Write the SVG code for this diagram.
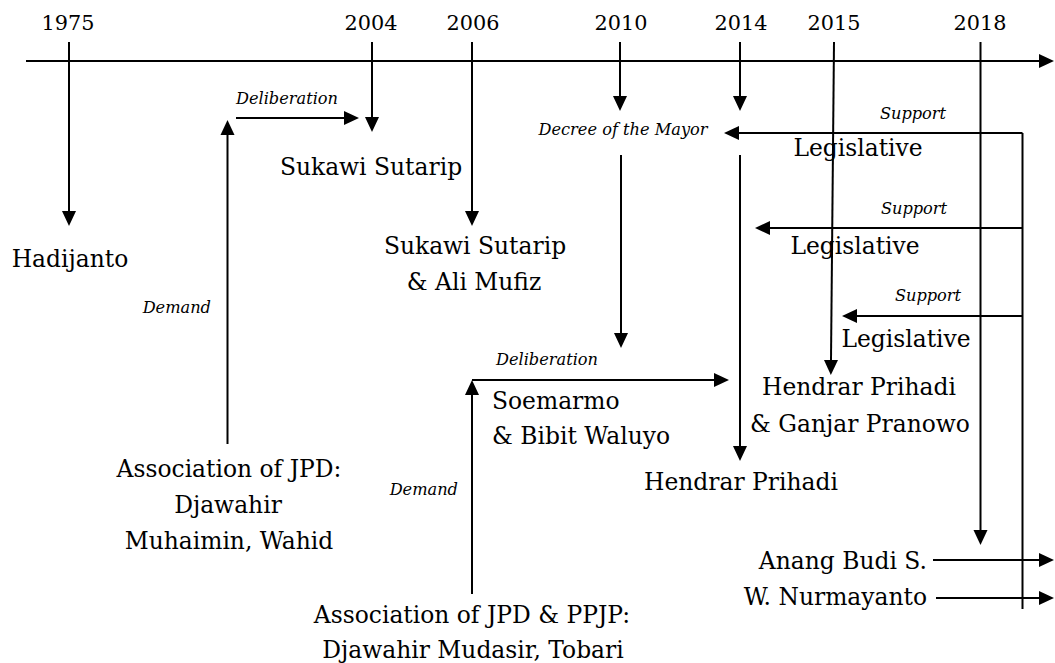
<svg xmlns="http://www.w3.org/2000/svg" width="1055" height="663" viewBox="0 0 1055 663">
<style>
.t{font-family:"DejaVu Serif","Liberation Serif",serif;font-size:23.4px;fill:#000}
.y{font-family:"DejaVu Serif","Liberation Serif",serif;font-size:20.8px;fill:#000;text-anchor:middle}
.i{font-family:"DejaVu Serif","Liberation Serif",serif;font-size:16.2px;font-style:italic;fill:#000}
.m{text-anchor:middle}
.e{text-anchor:end}
.c line,.c path{stroke:#000;stroke-width:2;fill:none}
.c .a{marker-end:url(#ah)}
</style>
<defs>
<marker id="ah" markerUnits="userSpaceOnUse" markerWidth="15" markerHeight="14" refX="0" refY="7" orient="auto" overflow="visible">
<path d="M0,0 L15,7 L0,14 Z" fill="#000"/>
</marker>
</defs>
<rect width="1055" height="663" fill="#fff"/>
<g id="years">
<text class="y" x="68" y="30">1975</text>
<text class="y" x="371" y="30">2004</text>
<text class="y" x="473" y="30">2006</text>
<text class="y" x="621" y="30">2010</text>
<text class="y" x="741" y="30">2014</text>
<text class="y" x="834" y="30">2015</text>
<text class="y" x="980" y="30">2018</text>
</g>
<g class="c" id="connectors">
<line class="a" x1="26" y1="61" x2="1039" y2="61"/>
<line class="a" x1="69" y1="42" x2="69" y2="211"/>
<line class="a" x1="372" y1="42" x2="372" y2="117"/>
<line class="a" x1="472" y1="42" x2="472" y2="211"/>
<line class="a" x1="620" y1="42" x2="620" y2="96"/>
<line class="a" x1="740" y1="42" x2="740" y2="96"/>
<line class="a" x1="834" y1="42" x2="831" y2="360"/>
<line class="a" x1="980.5" y1="42" x2="980.5" y2="530"/>
<line class="a" x1="236" y1="118" x2="344" y2="118"/>
<line class="a" x1="227.5" y1="444" x2="227.5" y2="135"/>
<line x1="1022.5" y1="133" x2="1022.5" y2="609"/>
<line class="a" x1="1022.5" y1="133" x2="739" y2="133"/>
<line class="a" x1="1022.5" y1="228" x2="770" y2="228"/>
<line class="a" x1="1022.5" y1="316" x2="857" y2="316"/>
<line class="a" x1="621" y1="155" x2="621" y2="333"/>
<line class="a" x1="740" y1="155" x2="740" y2="446"/>
<line class="a" x1="472" y1="594" x2="472" y2="395"/>
<line class="a" x1="472" y1="380" x2="714" y2="380"/>
<line class="a" x1="933" y1="560" x2="1039" y2="560"/>
<line class="a" x1="936" y1="598" x2="1039" y2="598"/>
</g>
<g id="labels">
<text class="i m" x="287" y="104">Deliberation</text>
<text class="i e" x="211" y="313">Demand</text>
<text class="i m" x="623" y="135">Decree of the Mayor</text>
<text class="i m" x="913" y="119">Support</text>
<text class="i m" x="914" y="214">Support</text>
<text class="i m" x="928" y="301">Support</text>
<text class="i m" x="547" y="365">Deliberation</text>
<text class="i e" x="458" y="495">Demand</text>
</g>
<g id="n-hadijanto"><text class="t m" x="70" y="267">Hadijanto</text></g>
<g id="n-sukawi1"><text class="t m" x="371" y="175">Sukawi Sutarip</text></g>
<g id="n-sukawi2"><text class="t m" x="475" y="254">Sukawi Sutarip</text><text class="t m" x="474" y="290">&amp; Ali Mufiz</text></g>
<g id="n-assoc1"><text class="t m" x="229" y="477">Association of JPD:</text><text class="t m" x="228" y="513">Djawahir</text><text class="t m" x="229" y="549">Muhaimin, Wahid</text></g>
<g id="n-assoc2"><text class="t m" x="472" y="623">Association of JPD &amp; PPJP:</text><text class="t m" x="473" y="658">Djawahir Mudasir, Tobari</text></g>
<g id="n-soemarmo"><text class="t" x="492" y="409">Soemarmo</text><text class="t" x="492" y="444">&amp; Bibit Waluyo</text></g>
<g id="n-leg1"><text class="t m" x="858" y="156">Legislative</text></g>
<g id="n-leg2"><text class="t m" x="855" y="254">Legislative</text></g>
<g id="n-leg3"><text class="t m" x="906" y="347">Legislative</text></g>
<g id="n-hendrar-ganjar"><text class="t m" x="859" y="395">Hendrar Prihadi</text><text class="t m" x="860" y="432">&amp; Ganjar Pranowo</text></g>
<g id="n-hendrar"><text class="t m" x="741" y="490">Hendrar Prihadi</text></g>
<g id="n-anang"><text class="t e" x="927" y="569">Anang Budi S.</text></g>
<g id="n-nurmayanto"><text class="t e" x="927" y="605">W. Nurmayanto</text></g>
</svg>
